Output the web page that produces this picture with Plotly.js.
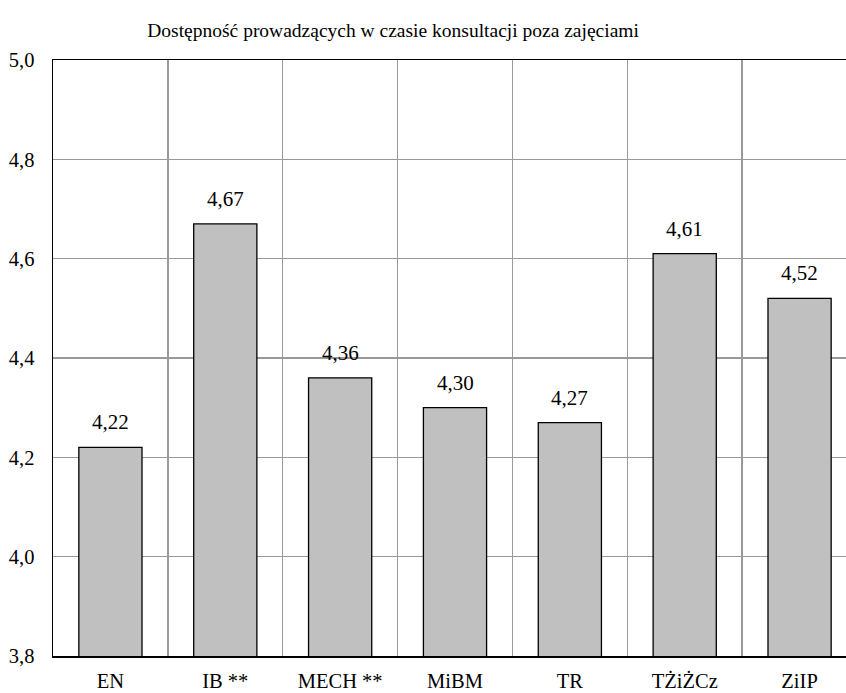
<!DOCTYPE html>
<html>
<head>
<meta charset="utf-8">
<script src="https://cdn.plot.ly/plotly-3.0.1.min.js"></script>
<style>html,body{margin:0;padding:0;overflow:hidden;background:#fff;}</style>
</head>
<body>
<div id="chart"></div>
<script>
const categories = ["EN", "IB **", "MECH **", "MiBM", "TR", "TŻiŻCz", "ZiIP"];
const values = [4.22, 4.67, 4.36, 4.30, 4.27, 4.61, 4.52];
const yTicks = [3.8, 4.0, 4.2, 4.4, 4.6, 4.8, 5.0];
const titleText = "Dostępność prowadzących w czasie konsultacji poza zajęciami";

const font = "Liberation Serif";

const annotations = categories.map((c, i) => ({
  x: c,
  y: values[i],
  xref: "x",
  yref: "y",
  text: values[i].toFixed(2).replace(".", ","),
  showarrow: false,
  yanchor: "bottom",
  yshift: 11,
  font: {family: font, size: 21, color: "#000"}
}));

Plotly.newPlot("chart", [{
  type: "bar",
  x: categories,
  y: values,
  marker: {color: "#c0c0c0", line: {color: "#000", width: 1.3}},
  hoverinfo: "none"
}], {
  width: 857,
  height: 693,
  margin: {l: 53, r: 0, t: 60, b: 37, pad: 0},
  separators: ",.",
  paper_bgcolor: "#fff",
  plot_bgcolor: "#fff",
  bargap: 0.45,
  showlegend: false,
  annotations: annotations,
  font: {family: font, color: "#000"},
  title: {
    text: titleText,
    font: {family: font, size: 19.5, color: "#000"},
    x: 0.423, xref: "paper", xanchor: "center",
    y: 693 - 30, yref: "container", yanchor: "middle"
  },
  xaxis: {
    type: "category",
    tickson: "boundaries",
    showgrid: true,
    gridcolor: "#999",
    gridwidth: 1.3,
    showline: true,
    linecolor: "#000",
    linewidth: 1.5,
    mirror: true,
    ticks: "",
    ticklen: 0,
    ticklabelstandoff: 6,
    tickfont: {family: font, size: 20.5, color: "#000"},
    zeroline: false,
    fixedrange: true
  },
  yaxis: {
    range: [3.8, 5.0],
    tickvals: yTicks,
    tickformat: ".1f",
    showgrid: true,
    gridcolor: "#999",
    gridwidth: 1.3,
    showline: true,
    linecolor: "#000",
    linewidth: 1.5,
    mirror: true,
    ticks: "",
    ticklabelstandoff: 13,
    tickfont: {family: font, size: 20.5, color: "#000"},
    zeroline: false,
    fixedrange: true
  }
}, {displayModeBar: false, staticPlot: true});
</script>
</body>
</html>
